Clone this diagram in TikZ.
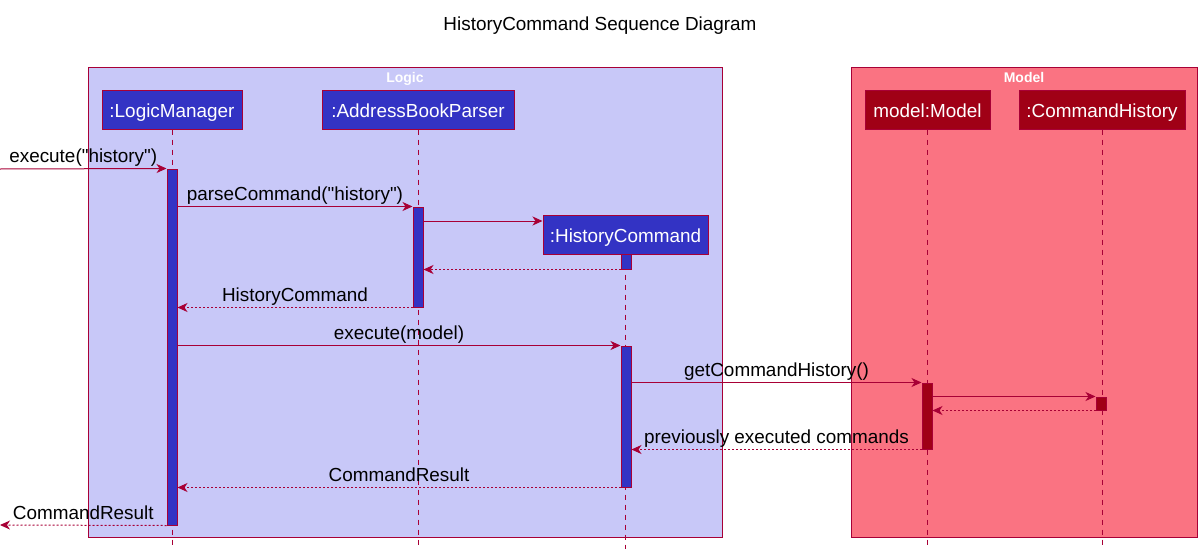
\documentclass[tikz,border=0pt]{standalone}
\usepackage{fontspec}
\setmainfont{Liberation Sans}[Ligatures=TeXOff]
\usetikzlibrary{arrows.meta}
\definecolor{umlred}{RGB}{168,0,54}
\definecolor{logicbg}{RGB}{200,200,248}
\definecolor{modelbg}{RGB}{250,115,130}
\definecolor{logicfill}{RGB}{51,51,196}
\definecolor{modelfill}{RGB}{160,0,22}
\begin{document}
\begin{tikzpicture}[x=1pt,y=-1pt,
  every node/.style={font=\fontsize{18.9}{22}\selectfont},
  frame/.style={draw=umlred,line width=1pt},
  frametitle/.style={text=white,anchor=base,font=\fontsize{14}{16}\selectfont\bfseries},
  actor/.style={draw=umlred,line width=1pt,text=white,minimum height=39pt,inner sep=0pt,
    text height=15pt,text depth=0pt},
  lifeline/.style={draw=umlred,line width=1pt,dash pattern=on 5pt off 5pt},
  actbar/.style={draw=umlred,line width=1pt,minimum width=10pt,inner sep=0pt},
  msg/.style={draw=umlred,line width=1pt,-{Stealth[length=10pt,width=9pt,inset=3pt]}},
  ret/.style={msg,dash pattern=on 2pt off 2pt},
  lbl/.style={midway,anchor=base,yshift=6pt,text=black}]
  \useasboundingbox (0,0) rectangle (1203,549);

  \node (title) at (600,26) {HistoryCommand Sequence Diagram};

  \draw[frame,fill=logicbg] (88,67) rectangle (722,537);
  \draw[frame,fill=modelbg] (851,67) rectangle (1197,537);
  \node[frametitle] (logicT) at (405,82) {Logic};
  \node[frametitle] (modelT) at (1024,82) {Model};

  \node[actor,fill=logicfill,minimum width=140pt] (lm) at (172,109.5) {:LogicManager};
  \node[actor,fill=logicfill,minimum width=192pt] (abp) at (418,109.5) {:AddressBookParser};
  \node[actor,fill=logicfill,minimum width=165pt] (hc) at (625.5,234.5) {:HistoryCommand};
  \node[actor,fill=modelfill,minimum width=125pt] (mdl) at (927.5,109.5) {model:Model};
  \node[actor,fill=modelfill,minimum width=166pt] (ch) at (1102,109.5) {:CommandHistory};

  \coordinate (bot) at (0,549);
  \draw[lifeline] (lm.south) -- (lm.south |- bot);
  \draw[lifeline] (abp.south) -- (abp.south |- bot);
  \draw[lifeline] (hc.south) -- (hc.south |- bot);
  \draw[lifeline] (mdl.south) -- (mdl.south |- bot);
  \draw[lifeline] (ch.south) -- (ch.south |- bot);

  \node[actbar,fill=logicfill,minimum height=356pt] (lmA) at (172,347) {};
  \node[actbar,fill=logicfill,minimum height=100pt] (abpA) at (418,257) {};
  \node[actbar,fill=logicfill,minimum height=15pt] (hcA1) at (626,261.5) {};
  \node[actbar,fill=logicfill,minimum height=141pt] (hcA2) at (626,416.5) {};
  \node[actbar,fill=modelfill,minimum height=66pt] (mdlA) at (927,416) {};
  \node[actbar,fill=modelfill,minimum height=13pt] (chA) at (1101,403.5) {};

  \coordinate (src) at (0,169);
  \coordinate (mk) at (0,221);
  \coordinate (dst) at (0,525);
  \draw[msg] (src) -- (lmA.north west) node[lbl] {execute("history")};
  \draw[msg] (lmA.east |- abpA.north) -- (abpA.north west) node[lbl] {parseCommand("history")};
  \draw[msg] (abpA.east |- mk) -- (hc.west |- mk);
  \draw[ret] (hcA1.south west) -- (abpA.east |- hcA1.south);
  \draw[ret] (abpA.south west) -- (lmA.east |- abpA.south) node[lbl] {HistoryCommand};
  \draw[msg] (lmA.east |- hcA2.north) -- (hcA2.north west) node[lbl] {execute(model)};
  \draw[msg] (hcA2.east |- mdlA.north) -- (mdlA.north west) node[lbl] {getCommandHistory()};
  \draw[msg] (mdlA.east |- chA.north) -- (chA.north west);
  \draw[ret] (chA.south west) -- (mdlA.east |- chA.south);
  \draw[ret] (mdlA.south west) -- (hcA2.east |- mdlA.south) node[lbl] {previously executed commands};
  \draw[ret] (hcA2.south west) -- (lmA.east |- hcA2.south) node[lbl] {CommandResult};
  \draw[ret] (lmA.south west) -- (dst) node[lbl] {CommandResult};
\end{tikzpicture}
\end{document}
